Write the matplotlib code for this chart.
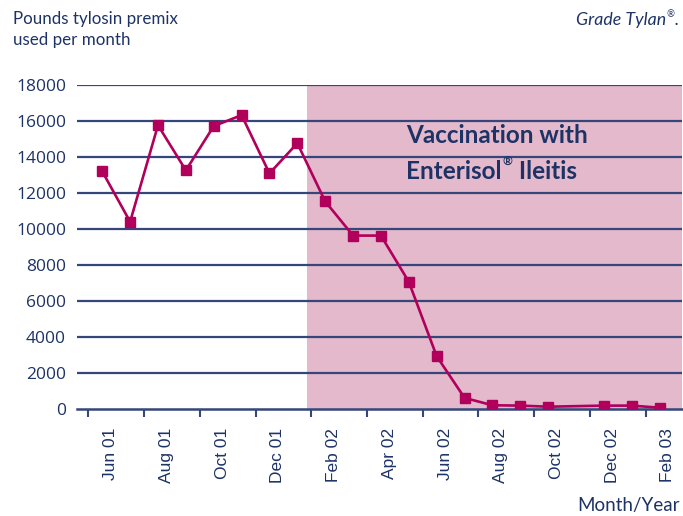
import numpy as np
import matplotlib.pyplot as plt
from matplotlib.transforms import offset_copy

# monthly usage, Jun 01 .. Feb 03 (Nov 02 not reported)
months = ['Jun 01', 'Jul 01', 'Aug 01', 'Sep 01', 'Oct 01', 'Nov 01', 'Dec 01',
          'Jan 02', 'Feb 02', 'Mar 02', 'Apr 02', 'May 02', 'Jun 02', 'Jul 02',
          'Aug 02', 'Sep 02', 'Oct 02', 'Nov 02', 'Dec 02', 'Jan 03', 'Feb 03']
pounds = [13200, 10400, 15770, 13260, 15720, 16330, 13090,
          14770, 11530, 9630, 9630, 7060, 2920, 600,
          190, 170, 110, None, 170, 170, 55]
vacc_start = 7.33   # vaccination period starts mid Jan 02
yticks = list(range(0, 18001, 2000))

navy = '#1d3366'
grid_c = '#34467a'
line_c = '#b0005c'
shade_c = '#e4b9cb'

x = np.array([i for i, v in enumerate(pounds) if v is not None])
y = np.array([v for v in pounds if v is not None])

fig = plt.figure(figsize=(6.83, 5.16), dpi=100)
ax = fig.add_axes([0.113, 0.208, 0.885, 0.627])

xmin, xmax = -0.9, 20.79
ax.set_xlim(xmin, xmax)
ax.set_ylim(0, 18000)

ax.axvspan(vacc_start, xmax, ymin=0, ymax=1, color=shade_c, lw=0, zorder=0)
for t in yticks[1:]:
    ax.axhline(t, color=grid_c, lw=1.6, zorder=1)

ax.plot(x, y, color=line_c, lw=1.9, marker='s', ms=6.5, zorder=3)


def text_with_reg(x0, y0, before, after, size, trans, **kw):
    # text with a small raised (R) sign, as in the print original
    fig.canvas.draw()
    r = fig.canvas.get_renderer()
    t1 = ax.text(x0, y0, before, fontsize=size, transform=trans, **kw)
    w1 = t1.get_window_extent(r).width
    t2 = ax.text(x0, y0, '®', fontsize=size * 0.5,
                 transform=offset_copy(trans, fig, x=w1 + 1, y=size * 0.75, units='dots'), **kw)
    w2 = t2.get_window_extent(r).width
    if after:
        ax.text(x0, y0, after, fontsize=size,
                transform=offset_copy(trans, fig, x=w1 + w2 + 2, y=0, units='dots'), **kw)


ax.text(10.9, 14780, 'Vaccination with', fontsize=17.5, fontweight='bold',
        color=navy, family='Lato', va='baseline')
text_with_reg(10.9, 12800, 'Enterisol', ' Ileitis', 17.5, ax.transData,
              fontweight='bold', color=navy, family='Lato', va='baseline')

for s in ['top', 'right', 'left']:
    ax.spines[s].set_visible(False)
ax.spines['bottom'].set_color(grid_c)
ax.spines['bottom'].set_linewidth(1.8)

ax.set_yticks(yticks)
ax.set_yticklabels([str(t) for t in yticks], fontsize=12.5, color=navy, family='Open Sans')
ax.tick_params(axis='y', length=0, pad=8)

lab_idx = list(range(0, 21, 2))
ax.set_xticks([i + 0.3 for i in lab_idx])
ax.set_xticklabels([months[i] for i in lab_idx], rotation=90, fontsize=12.5,
                   color=navy, family='Liberation Sans')
ax.tick_params(axis='x', which='major', length=0, pad=14)
ax.set_xticks([i - 0.5 for i in lab_idx], minor=True)
ax.tick_params(axis='x', which='minor', length=6, width=1.5, color=grid_c)

fig.text(0.019, 0.978, 'Pounds tylosin premix\nused per month', fontsize=12.2,
         color=navy, family='Lato', va='top', ha='left', linespacing=1.35)

# "Grade Tylan®." at top right, built right to left
fig.canvas.draw()
r = fig.canvas.get_renderer()
ft = fig.transFigure
tdot = fig.text(0.993, 0.952, '.', fontsize=12.8, color=navy, family='Lato',
                style='italic', ha='right', va='baseline')
wd = tdot.get_window_extent(r).width
treg = fig.text(0.993, 0.952, '®', fontsize=6.8, color=navy, family='Lato',
                style='italic', ha='right', va='baseline',
                transform=offset_copy(ft, fig, x=-wd, y=8, units='dots'))
wr = treg.get_window_extent(r).width
fig.text(0.993, 0.952, 'Grade Tylan', fontsize=12.8, color=navy, family='Lato',
         style='italic', ha='right', va='baseline',
         transform=offset_copy(ft, fig, x=-wd - wr, y=0, units='dots'))

fig.text(0.995, 0.01, 'Month/Year', fontsize=13.5, color=navy,
         family='Lato', ha='right', va='baseline')

fig.savefig('out.png', dpi=100)
